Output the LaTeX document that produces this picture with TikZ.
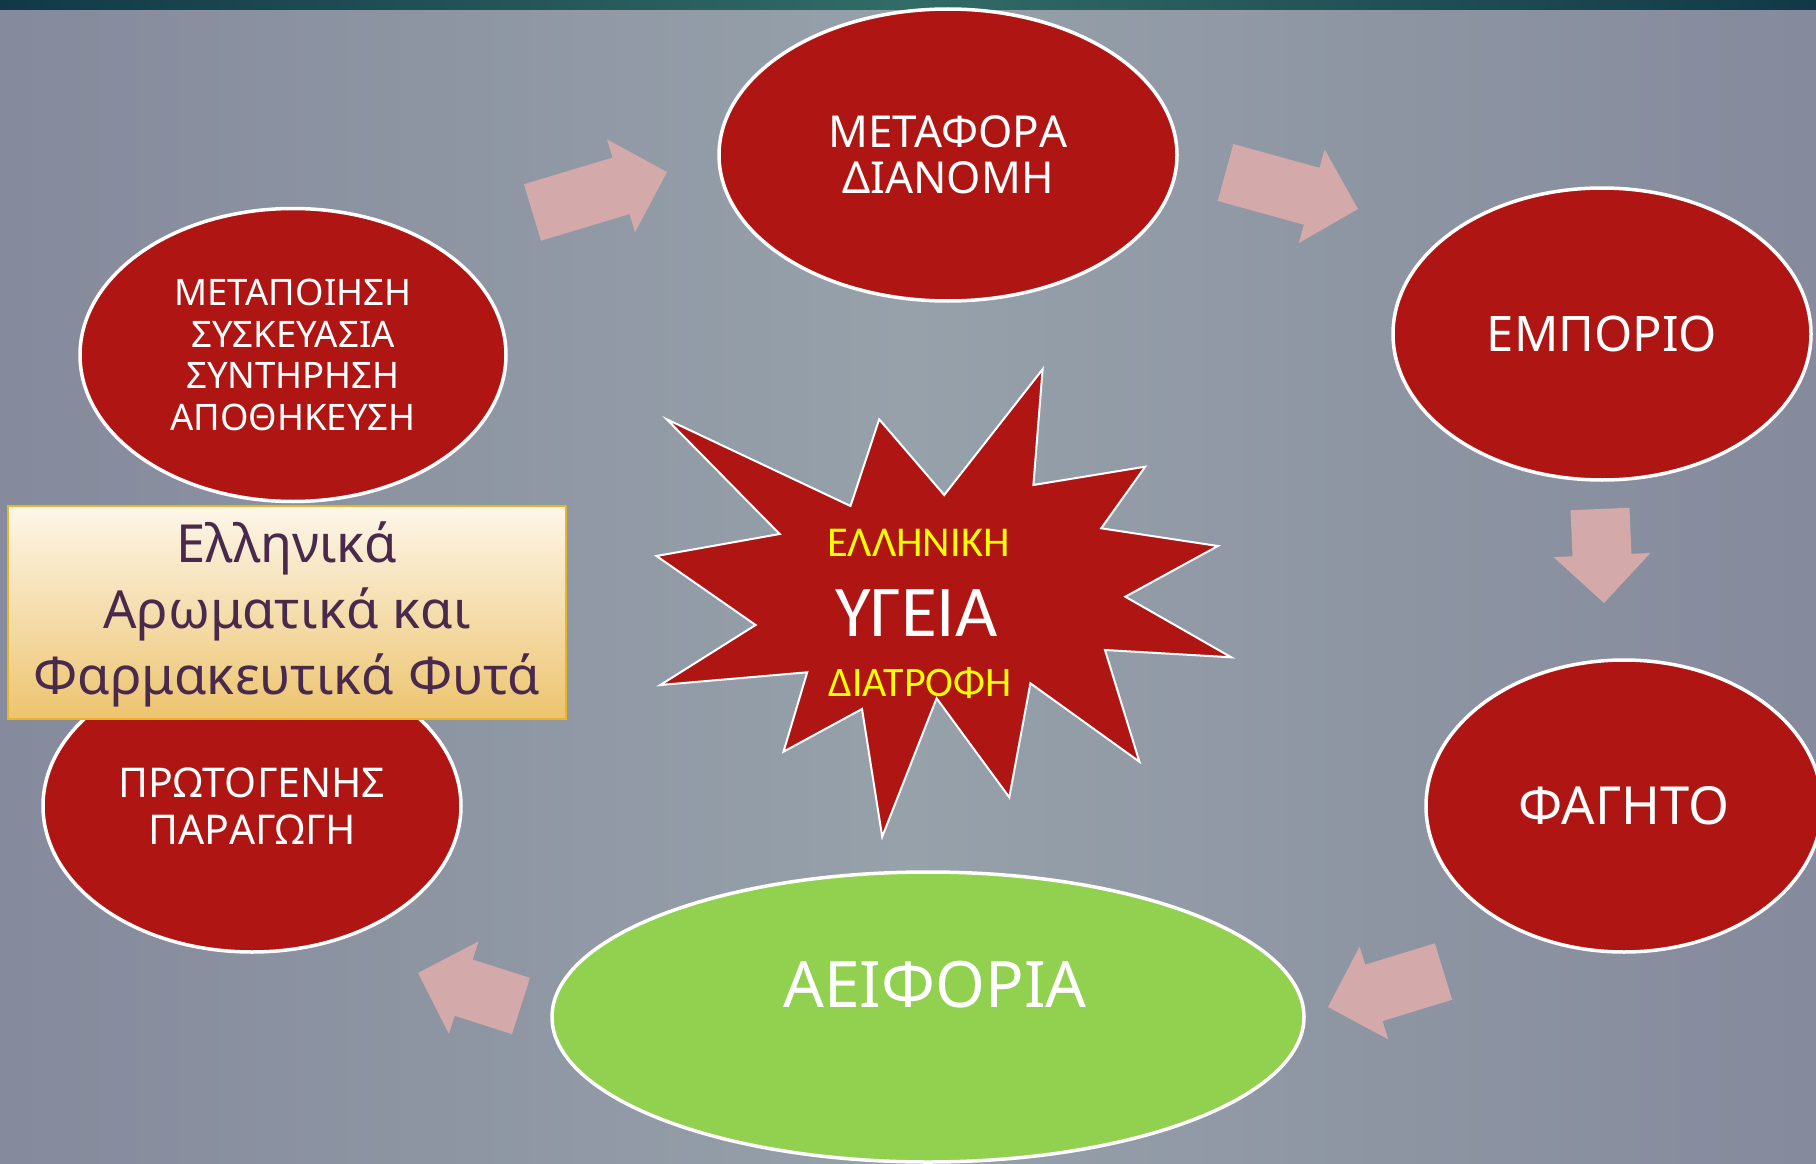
\documentclass[tikz,border=0pt]{standalone}
\usepackage{fontspec}
\setmainfont{Noto Sans}
\newfontfamily\calib{Carlito}
\usetikzlibrary{shapes.geometric,calc}
\definecolor{ered}{HTML}{AF1512}
\definecolor{egreen}{HTML}{92D050}
\definecolor{apink}{HTML}{D4A9AA}
\definecolor{bgmid}{HTML}{96A1AA}
\definecolor{bgside}{HTML}{858A9C}
\definecolor{barside}{HTML}{123848}
\definecolor{barmid}{HTML}{316C66}
\definecolor{boxtop}{HTML}{FDF6EA}
\definecolor{boxbot}{HTML}{EDC46E}
\definecolor{boxline}{HTML}{E7B52A}
\definecolor{boxtext}{HTML}{4A2A4C}
\definecolor{sunyellow}{HTML}{FFFF00}
\newcommand\blockarrow[3]{%
  \path ($(#2)!48pt!(#1)$) coordinate (#3H);
  \fill[arrowfill] ($(#1)!29.5pt!90:(#2)$) -- ($(#3H)!29.5pt!90:(#2)$)
    -- ($(#3H)!48.5pt!90:(#2)$) -- (#2) -- ($(#3H)!48.5pt!-90:(#2)$)
    -- ($(#3H)!29.5pt!-90:(#2)$) -- ($(#1)!29.5pt!-90:(#2)$) -- cycle;}
\begin{document}
\begin{tikzpicture}[x=1pt,y=-1pt,
  bubble/.style={ellipse, draw=white, line width=3.5pt, fill=ered, inner sep=0pt,
    text=white, align=center},
  arrowfill/.style={fill=apink},
  startxt/.style={inner sep=0pt, font=\calib}]
\useasboundingbox (0,0) rectangle (1816,1164);
\shade[left color=bgside, right color=bgside, middle color=bgmid] (0,0) rectangle (1816,1164);
\shade[left color=barside, right color=barside, middle color=barmid] (0,0) rectangle (1816,10);

% ellipses
\node[bubble, minimum width=458pt, minimum height=292pt,
  font=\fontsize{44}{46}\selectfont] (metafora) at (948,155) {ΜΕΤΑΦΟΡΑ\\ΔΙΑΝΟΜΗ};
\node[bubble, minimum width=418pt, minimum height=292pt,
  font=\fontsize{49}{50}\selectfont] (emporio) at (1602,334) {ΕΜΠΟΡΙΟ};
\node[bubble, minimum width=396pt, minimum height=292pt,
  font=\fontsize{52.5}{50}\selectfont] (fagito) at (1624,806) {ΦΑΓΗΤΟ};
\node[bubble, minimum width=418pt, minimum height=292pt,
  font=\fontsize{41}{47}\selectfont] (protog) at (252,806) {ΠΡΩΤΟΓΕΝΗΣ\\ΠΑΡΑΓΩΓΗ};
\node[bubble, minimum width=426pt, minimum height=293pt,
  font=\fontsize{36.5}{41.5}\selectfont] (metapoiisi) at (293,355)
  {ΜΕΤΑΠΟΙΗΣΗ\\ΣΥΣΚΕΥΑΣΙΑ\\ΣΥΝΤΗΡΗΣΗ\\ΑΠΟΘΗΚΕΥΣΗ};
\node[bubble, fill=egreen, minimum width=752pt, minimum height=290pt] (aeiforia) at (928,1017) {};
\node[text=white, inner sep=0pt, font=\fontsize{64}{64}\selectfont] (aeitext)
  at (935,985) {ΑΕΙΦΟΡΙΑ};

% box
\node[draw=boxline, line width=2pt, top color=boxtop, bottom color=boxbot,
  minimum width=558pt, minimum height=213pt, inner sep=0pt,
  anchor=north west] (title) at (7,505) {};
\node[text=boxtext, inner sep=0pt, align=center,
  font=\fontsize{52.5}{66}\selectfont] (titletext) at (287,614)
  {Ελληνικά\\Αρωματικά και\\Φαρμακευτικά Φυτά};

% star
\filldraw[fill=ered, draw=white, line width=2pt, line join=miter]
  (666.8,419.3) -- (850.5,506) -- (879.2,419.3) -- (944.2,495) -- (1042.6,369.3)
  -- (1033.4,485) -- (1145.2,466.7) -- (1101.2,528.3) -- (1217.9,546)
  -- (1125.3,596.7) -- (1231.3,657.3) -- (1105,650) -- (1139.4,761.7)
  -- (1030.4,683.3) -- (1009.3,797.3) -- (936.6,698.3) -- (882.2,836.7)
  -- (862,709) -- (783.5,751.7) -- (807.2,672.3) -- (660.3,685)
  -- (755.6,625) -- (656.5,556) -- (779.7,534) -- cycle;
\node[startxt, text=sunyellow, font=\calib\fontsize{42.5}{42}\selectfont] (elliniki) at (918.5,543) {ΕΛΛΗΝΙΚΗ};
\node[startxt, text=white, font=\calib\fontsize{73}{73}\selectfont] (ygeia) at (916.5,613.5) {ΥΓΕΙΑ};
\node[startxt, text=sunyellow, font=\calib\fontsize{42}{42}\selectfont] (diatrofi) at (920,683.5) {ΔΙΑΤΡΟΦΗ};

% block arrows
\coordinate (a1t) at (532.5,212.5); \coordinate (a1p) at (667,172);
\coordinate (a2t) at (1225.5,172.5); \coordinate (a2p) at (1358,209);
\coordinate (a3t) at (1600,509); \coordinate (a3p) at (1604,603);
\coordinate (a4t) at (1443.5,971.5); \coordinate (a4p) at (1328,1007);
\coordinate (a5t) at (521,1006); \coordinate (a5p) at (418,973);
\blockarrow{a1t}{a1p}{a1}
\blockarrow{a2t}{a2p}{a2}
\blockarrow{a3t}{a3p}{a3}
\blockarrow{a4t}{a4p}{a4}
\blockarrow{a5t}{a5p}{a5}
\end{tikzpicture}
\end{document}
